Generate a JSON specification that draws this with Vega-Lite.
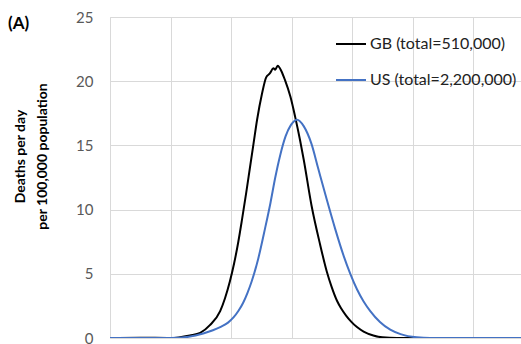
{
  "$schema": "https://vega.github.io/schema/vega-lite/v6.json",
  "width": 411,
  "height": 321,
  "autosize": {"type": "none"},
  "padding": {"left": 110, "top": 17, "right": 0, "bottom": 6},
  "background": "white",
  "title": {"text": "(A)", "anchor": "start", "frame": "group", "dx": -102, "offset": -40, "baseline": "bottom", "fontSize": 17, "fontWeight": "bold", "font": "Lato", "color": "#000000"},
  "data": {"values": [
    {"series": "GB (total=510,000)", "t": 0, "v": 0},
    {"series": "GB (total=510,000)", "t": 0.5, "v": 0.02},
    {"series": "GB (total=510,000)", "t": 0.99, "v": 0},
    {"series": "GB (total=510,000)", "t": 1.32, "v": 0.2},
    {"series": "GB (total=510,000)", "t": 1.49, "v": 0.4},
    {"series": "GB (total=510,000)", "t": 1.65, "v": 1.0},
    {"series": "GB (total=510,000)", "t": 1.82, "v": 2.1},
    {"series": "GB (total=510,000)", "t": 1.9, "v": 3.1},
    {"series": "GB (total=510,000)", "t": 1.98, "v": 4.4},
    {"series": "GB (total=510,000)", "t": 2.05, "v": 5.8},
    {"series": "GB (total=510,000)", "t": 2.12, "v": 7.5},
    {"series": "GB (total=510,000)", "t": 2.18, "v": 9.2},
    {"series": "GB (total=510,000)", "t": 2.25, "v": 11.3},
    {"series": "GB (total=510,000)", "t": 2.31, "v": 13.2},
    {"series": "GB (total=510,000)", "t": 2.37, "v": 15.1},
    {"series": "GB (total=510,000)", "t": 2.43, "v": 17.0},
    {"series": "GB (total=510,000)", "t": 2.51, "v": 19.0},
    {"series": "GB (total=510,000)", "t": 2.58, "v": 20.3},
    {"series": "GB (total=510,000)", "t": 2.64, "v": 20.6},
    {"series": "GB (total=510,000)", "t": 2.7, "v": 21.0},
    {"series": "GB (total=510,000)", "t": 2.73, "v": 20.9},
    {"series": "GB (total=510,000)", "t": 2.77, "v": 21.2},
    {"series": "GB (total=510,000)", "t": 2.83, "v": 20.8},
    {"series": "GB (total=510,000)", "t": 2.89, "v": 20.1},
    {"series": "GB (total=510,000)", "t": 2.98, "v": 18.8},
    {"series": "GB (total=510,000)", "t": 3.06, "v": 17.2},
    {"series": "GB (total=510,000)", "t": 3.14, "v": 15.4},
    {"series": "GB (total=510,000)", "t": 3.2, "v": 13.9},
    {"series": "GB (total=510,000)", "t": 3.33, "v": 10.3},
    {"series": "GB (total=510,000)", "t": 3.47, "v": 7.3},
    {"series": "GB (total=510,000)", "t": 3.58, "v": 5.2},
    {"series": "GB (total=510,000)", "t": 3.66, "v": 4.0},
    {"series": "GB (total=510,000)", "t": 3.75, "v": 2.9},
    {"series": "GB (total=510,000)", "t": 3.82, "v": 2.3},
    {"series": "GB (total=510,000)", "t": 3.9, "v": 1.75},
    {"series": "GB (total=510,000)", "t": 3.98, "v": 1.3},
    {"series": "GB (total=510,000)", "t": 4.08, "v": 0.85},
    {"series": "GB (total=510,000)", "t": 4.19, "v": 0.5},
    {"series": "GB (total=510,000)", "t": 4.35, "v": 0.2},
    {"series": "GB (total=510,000)", "t": 4.5, "v": 0.05},
    {"series": "GB (total=510,000)", "t": 4.74, "v": 0},
    {"series": "GB (total=510,000)", "t": 5.29, "v": 0},
    {"series": "GB (total=510,000)", "t": 6.79, "v": 0},
    {"series": "US (total=2,200,000)", "t": 0, "v": 0},
    {"series": "US (total=2,200,000)", "t": 0.99, "v": 0},
    {"series": "US (total=2,200,000)", "t": 1.3, "v": 0.1},
    {"series": "US (total=2,200,000)", "t": 1.54, "v": 0.35},
    {"series": "US (total=2,200,000)", "t": 1.7, "v": 0.6},
    {"series": "US (total=2,200,000)", "t": 1.82, "v": 0.85},
    {"series": "US (total=2,200,000)", "t": 1.95, "v": 1.2},
    {"series": "US (total=2,200,000)", "t": 2.04, "v": 1.6},
    {"series": "US (total=2,200,000)", "t": 2.12, "v": 2.1},
    {"series": "US (total=2,200,000)", "t": 2.2, "v": 2.75},
    {"series": "US (total=2,200,000)", "t": 2.27, "v": 3.5},
    {"series": "US (total=2,200,000)", "t": 2.34, "v": 4.4},
    {"series": "US (total=2,200,000)", "t": 2.45, "v": 6.2},
    {"series": "US (total=2,200,000)", "t": 2.56, "v": 8.5},
    {"series": "US (total=2,200,000)", "t": 2.65, "v": 10.5},
    {"series": "US (total=2,200,000)", "t": 2.73, "v": 12.5},
    {"series": "US (total=2,200,000)", "t": 2.81, "v": 14.2},
    {"series": "US (total=2,200,000)", "t": 2.9, "v": 15.7},
    {"series": "US (total=2,200,000)", "t": 2.99, "v": 16.6},
    {"series": "US (total=2,200,000)", "t": 3.09, "v": 17.0},
    {"series": "US (total=2,200,000)", "t": 3.2, "v": 16.5},
    {"series": "US (total=2,200,000)", "t": 3.33, "v": 15.1},
    {"series": "US (total=2,200,000)", "t": 3.44, "v": 13.2},
    {"series": "US (total=2,200,000)", "t": 3.58, "v": 10.8},
    {"series": "US (total=2,200,000)", "t": 3.72, "v": 8.5},
    {"series": "US (total=2,200,000)", "t": 3.86, "v": 6.4},
    {"series": "US (total=2,200,000)", "t": 3.97, "v": 5.0},
    {"series": "US (total=2,200,000)", "t": 4.08, "v": 3.8},
    {"series": "US (total=2,200,000)", "t": 4.19, "v": 2.85},
    {"series": "US (total=2,200,000)", "t": 4.3, "v": 2.1},
    {"series": "US (total=2,200,000)", "t": 4.46, "v": 1.25},
    {"series": "US (total=2,200,000)", "t": 4.63, "v": 0.65},
    {"series": "US (total=2,200,000)", "t": 4.8, "v": 0.3},
    {"series": "US (total=2,200,000)", "t": 5.07, "v": 0.05},
    {"series": "US (total=2,200,000)", "t": 5.29, "v": 0},
    {"series": "US (total=2,200,000)", "t": 6.79, "v": 0}
  ]},
  "mark": {"type": "line", "strokeWidth": 2, "interpolate": "monotone", "clip": true},
  "encoding": {
    "x": {"field": "t", "type": "quantitative",
      "scale": {"domain": [0, 6.79], "nice": false, "zero": false},
      "axis": {"title": null, "labels": false, "ticks": false, "domain": false, "grid": true, "values": [0, 1, 2, 3, 4, 5, 6], "gridColor": "#d9d9d9"}},
    "y": {"field": "v", "type": "quantitative",
      "scale": {"domain": [0, 25], "nice": false},
      "axis": {"title": ["Deaths per day", "per 100,000 population"], "titleFont": "Lato", "titleFontSize": 14, "titleFontWeight": "bold", "titleColor": "#000000", "titleX": -83, "titleY": 139, "titleBaseline": "bottom", "titleLineHeight": 22,
        "values": [0, 5, 10, 15, 20, 25], "labelFont": "Lato", "labelFontSize": 15, "labelColor": "#595959", "labelPadding": 17, "ticks": false, "domain": false, "grid": true, "gridColor": "#d9d9d9"}},
    "color": {"field": "series", "type": "nominal",
      "scale": {"domain": ["GB (total=510,000)", "US (total=2,200,000)"], "range": ["#000000", "#4472c4"]},
      "legend": {"title": null, "orient": "none", "legendX": 225, "legendY": 11, "symbolType": "stroke", "symbolSize": 900, "symbolStrokeWidth": 2, "labelFont": "Lato", "labelFontSize": 16, "labelColor": "#222222", "rowPadding": 12, "labelOffset": 3, "labelLimit": 300}}
  }
}
